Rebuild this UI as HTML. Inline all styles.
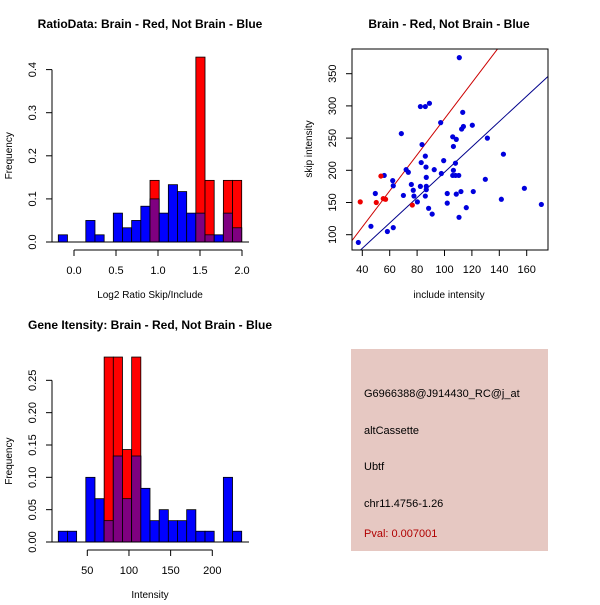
<!DOCTYPE html>
<html><head><meta charset="utf-8"><style>
body{margin:0;background:#fff;width:600px;height:600px;overflow:hidden}
svg{font-family:"Liberation Sans",sans-serif}
</style></head><body>
<svg id="s" width="600" height="600" viewBox="0 0 600 600" xmlns="http://www.w3.org/2000/svg">
<rect width="600" height="600" fill="#fff"/>
<g id="g1"></g>
<g id="g2"></g>
<g id="g3"></g>
<g>
<rect x="351" y="349" width="197" height="202" fill="#e6c8c2"/>
<text x="364" y="397" font-size="11">G6966388@J914430_RC@j_at</text>
<text x="364" y="434" font-size="11">altCassette</text>
<text x="364" y="470" font-size="11">Ubtf</text>
<text x="364" y="507" font-size="11">chr11.4756-1.26</text>
<text x="364" y="537" font-size="11" fill="#b00000">Pval: 0.007001</text>
</g>
</svg>
<script>
// Histogram 1 data
const h1Blue=[1/60,0,0,0.05,1/60,0,0.067,0.033,0.05,0.083,0.1,0.067,0.133,0.117,0.067,0.067,1/60,1/60,0.067,0.033];
const h1Red=[0,0,0,0,0,0,0,0,0,0,0.143,0,0,0,0,0.429,0.143,0,0.143,0.143];
const h1XTicks=[0,0.5,1,1.5,2];
const h1YTicks=[0,0.1,0.2,0.3,0.4];
// Histogram 3 data
const h3Blue=[1/60,1/60,0,0.1,0.067,0.033,0.133,0.067,0.133,0.083,0.033,0.05,0.033,0.033,0.05,1/60,1/60,0,0.1,1/60];
const h3Red=[0,0,0,0,0,0.286,0.286,0.143,0.286,0,0,0,0,0,0,0,0,0,0,0];
const h3XTicks=[50,100,150,200];
const h3YTicks=[0,0.05,0.1,0.15,0.2,0.25];
// Scatter data
const blueX=[37.1,46.3,49.5,56,58.3,62.2,62.6,62.6,68.5,70,72,73.6,75.8,77.2,77.7,80.2,82.4,86,89,83.6,83,86,86.5,86.7,86.7,86.7,82.4,86,88.4,91,92.5,97.2,97.7,99.4,102,102,106,106.5,108.6,106.5,106,108,108,110.4,108.6,110.8,113.3,112.5,113.8,110.6,112,115.9,120.3,121,129.8,131.3,141.5,143,158.3,170.7];
const blueY=[88,113,164,192,105,184,176,111,257,161,201,197,178,169,160,151,299,299,304,240,212,222,205,189,175,170,175,160,141,132,201,274,195,215,149,164,252,237,248,200,192,211,192,192,163,375,290,264,268,127,167,142,270,167,186,250,155,225,172,147];
const redX=[38.5,50.2,53.6,55.3,57,76.5];
const redY=[151,150,191,156,155,146];
const lineSlopes=[2.8,1.97];
const lineColors=["#cc0000","#00008b"];
const sXTicks=[40,60,80,100,120,140,160];
const sYTicks=[100,150,200,250,300,350];

const NS="http://www.w3.org/2000/svg";
function el(p,t,a){const e=document.createElementNS(NS,t);for(const k in a)e.setAttribute(k,a[k]);p.appendChild(e);return e;}

function hist(g,blue,red,x0,x1,yPx0,yPerUnit,xScale,xTicks,yTicks,yLab,xLab,title,titleY,xLabY,fmtY){
  const n=blue.length,bw=(x1-x0)/n;
  const ys=v=>yPx0-v*yPerUnit;
  for(let i=0;i<n;i++){
    const x=x0+i*bw;
    const b=blue[i],r=red[i];
    if(b>0){const e=el(g,'rect',{x:x,y:ys(b),width:bw,height:b*yPerUnit,fill:'#0000ff',stroke:'#000','stroke-width':0.8});
      
      }
    if(r>0){const e=el(g,'rect',{x:x,y:ys(r),width:bw,height:r*yPerUnit,fill:'#ff0000',stroke:'#000','stroke-width':0.8});
      
      }
    const m=Math.min(b,r);
    if(m>0){const e=el(g,'rect',{x:x,y:ys(m),width:bw,height:m*yPerUnit,fill:'#7f0080',stroke:'#000','stroke-width':0.8});
      
      }
  }
  el(g,'line',{x1:49,x2:249,y1:yPx0,y2:yPx0,stroke:'#000'});
  el(g,'line',{x1:52,x2:52,y1:ys(yTicks[0]),y2:ys(yTicks[yTicks.length-1]),stroke:'#000'});
  yTicks.forEach(v=>{const y=ys(v);el(g,'line',{x1:46,x2:52,y1:y,y2:y,stroke:'#000'});
    const t=el(g,'text',{x:0,y:0,'font-size':11,'text-anchor':'middle',transform:`translate(36,${y}) rotate(-90)`});t.textContent=fmtY(v);
    
    });
  const ax=yPx0+8;
  el(g,'line',{x1:xScale(xTicks[0]),x2:xScale(xTicks[xTicks.length-1]),y1:ax,y2:ax,stroke:'#000'});
  xTicks.forEach(v=>{const x=xScale(v);el(g,'line',{x1:x,x2:x,y1:ax,y2:ax+6,stroke:'#000'});
    const t=el(g,'text',{x:x,y:ax+24,'font-size':11,'text-anchor':'middle'});t.textContent=(xTicks[0]===0?v.toFixed(1):v);
    
    });
  const tt=el(g,'text',{x:150,y:titleY,'font-size':12,'font-weight':'bold','text-anchor':'middle'});tt.textContent=title;
  
  
  const xl=el(g,'text',{x:150,y:xLabY,'font-size':10,'text-anchor':'middle'});xl.textContent=xLab;
  
  
  const yl=el(g,'text',{x:0,y:0,'font-size':10,'text-anchor':'middle',transform:`translate(12,${(ys(0)+ys(yTicks[yTicks.length-1]))/2}) rotate(-90)`});yl.textContent=yLab;
  
  
}
hist(document.getElementById('g1'),h1Blue,h1Red,58.3,241.7,242,431,v=>74+v*84,h1XTicks,h1YTicks,'Frequency','Log2 Ratio Skip/Include','RatioData: Brain - Red, Not Brain - Blue',28,298,v=>v.toFixed(1));
hist(document.getElementById('g3'),h3Blue,h3Red,58.3,241.7,542,646.7,v=>87.3+(v-50)*0.8333,h3XTicks,h3YTicks,'Frequency','Intensity','Gene Itensity: Brain - Red, Not Brain - Blue',329,598,v=>v.toFixed(2));

(function(){
  const g=document.getElementById('g2');
  const L=352,R=548,T=49,B=250;
  const xs=v=>362.3+(v-40)*1.37;
  const ys=v=>234.7-(v-100)*0.644;
  const cp=el(g,'clipPath',{id:'cp'});el(cp,'rect',{x:L,y:T,width:R-L,height:B-T});
  lineSlopes.forEach((m,i)=>{const l=el(g,'line',{x1:xs(20),y1:ys(m*20),x2:xs(200),y2:ys(m*200),stroke:lineColors[i],'stroke-width':1,'clip-path':'url(#cp)'});
    
    });
  blueX.forEach((x,i)=>{const c=el(g,'circle',{cx:xs(x),cy:ys(blueY[i]),r:2.6,fill:'#0000dd'});
    
    });
  redX.forEach((x,i)=>{const c=el(g,'circle',{cx:xs(x),cy:ys(redY[i]),r:2.6,fill:'#ee0000'});
    
    });
  el(g,'rect',{x:L,y:T,width:R-L,height:B-T,fill:'none',stroke:'#000'});
  sXTicks.forEach(v=>{const x=xs(v);el(g,'line',{x1:x,x2:x,y1:B,y2:B+6,stroke:'#000'});
    const t=el(g,'text',{x:x,y:B+23,'font-size':11,'text-anchor':'middle'});t.textContent=v;
    
    });
  sYTicks.forEach(v=>{const y=ys(v);el(g,'line',{x1:L-6,x2:L,y1:y,y2:y,stroke:'#000'});
    const t=el(g,'text',{x:0,y:0,'font-size':11,'text-anchor':'middle',transform:`translate(336,${y}) rotate(-90)`});t.textContent=v;
    
    });
  const tt=el(g,'text',{x:449,y:28,'font-size':12,'font-weight':'bold','text-anchor':'middle'});tt.textContent='Brain - Red, Not Brain - Blue';
  
  
  const xl=el(g,'text',{x:449,y:298,'font-size':10,'text-anchor':'middle'});xl.textContent='include intensity';
  
  
  const yl=el(g,'text',{x:0,y:0,'font-size':10,'text-anchor':'middle',transform:'translate(312,149) rotate(-90)'});yl.textContent='skip intensity';
  
  
})();
</script>
</body></html>
